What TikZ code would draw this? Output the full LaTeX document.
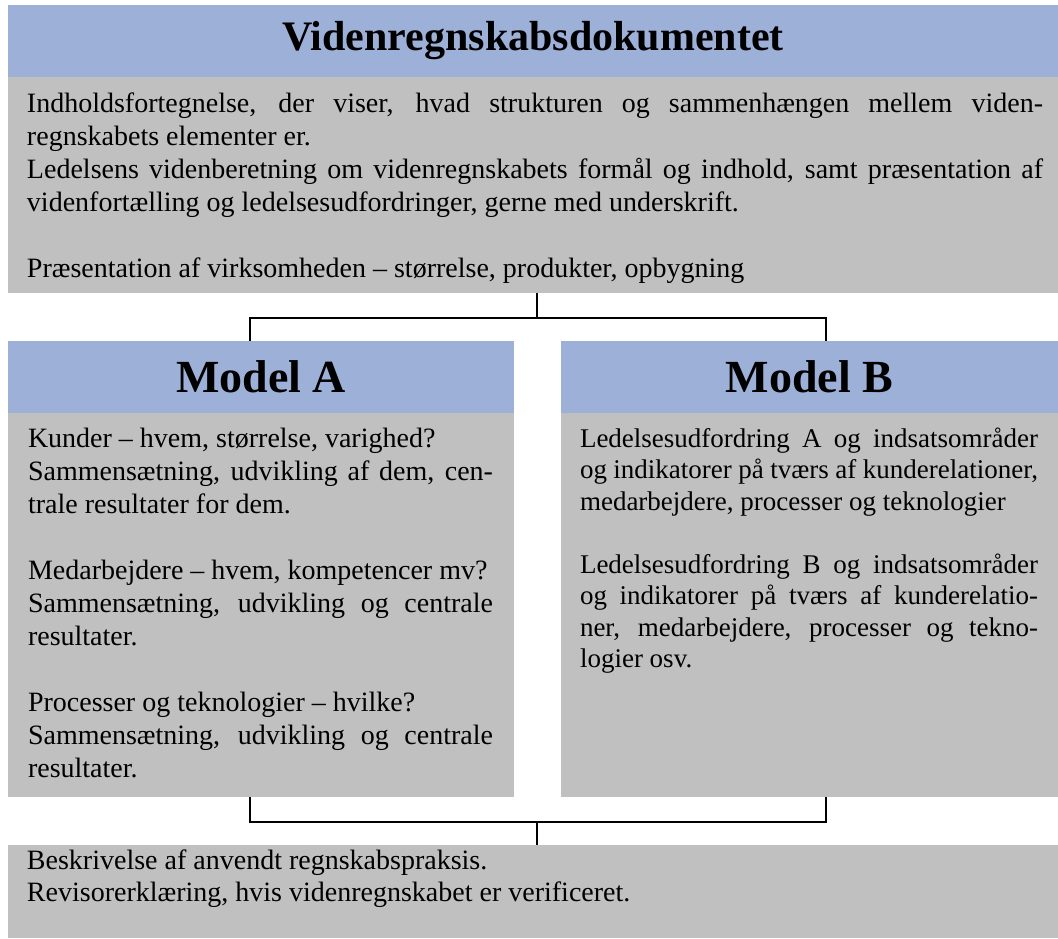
\documentclass[tikz,border=0pt]{standalone}
\usepackage{fontspec}
\setmainfont{Liberation Serif}
\usetikzlibrary{calc}
\definecolor{hdrblue}{RGB}{157,176,216}
\definecolor{bodygray}{RGB}{192,192,192}

\begin{document}
\begin{tikzpicture}[x=1pt,y=-1pt,
  panel/.style={draw=none, rectangle, inner sep=0pt, outer sep=0pt, anchor=north west},
  hdr/.style={panel, fill=hdrblue, font=\bfseries},
  body/.style={panel, fill=bodygray},
  txt/.style={anchor=north west, inner sep=0pt, outer sep=0pt, align=justify,
    execute at begin node={\parindent=0pt\tolerance=10000\hyphenpenalty=10000}},
  conn/.style={draw=black, line width=1.5pt}]
\useasboundingbox (0,0) rectangle (1058,938);

% top panel
\node[hdr, minimum width=1050pt, minimum height=72pt] (topHdr) at (8,5)
  {\fontsize{42}{48}\selectfont Videnregnskabsdokumentet};
\node[body, minimum width=1050pt, minimum height=216pt] (topBody) at (8,77) {};
\node[txt, text width=1016pt, font=\fontsize{28}{33}\selectfont] (topText) at (27,89)
  {\strut Indholdsfortegnelse, der viser, hvad strukturen og sammenhængen mellem viden-\linebreak
   regnskabets elementer er.\par
   Ledelsens videnberetning om videnregnskabets formål og indhold, samt præsentation af\linebreak
   videnfortælling og ledelsesudfordringer, gerne med underskrift.\par
   \mbox{}\par
   Præsentation af virksomheden – størrelse, produkter, opbygning\par};

% model A
\node[hdr, minimum width=506pt, minimum height=72pt] (hdrA) at (8,341)
  {\fontsize{46}{52}\selectfont Model A};
\node[body, minimum width=506pt, minimum height=384pt] (bodyA) at (8,413) {};
\node[txt, text width=465pt, font=\fontsize{28}{33}\selectfont] (textA) at (28,424)
  {\strut Kunder – hvem, størrelse, varighed?\newline
   Sammensætning, udvikling af dem, cen-\linebreak
   trale resultater for dem.\par
   \mbox{}\par
   Medarbejdere – hvem, kompetencer mv?\newline
   Sammensætning, udvikling og centrale\linebreak
   resultater.\par
   \mbox{}\par
   Processer og teknologier – hvilke?\newline
   Sammensætning, udvikling og centrale\linebreak
   resultater.\par};

% model B
\node[hdr, minimum width=497pt, minimum height=72pt] (hdrB) at (561,341)
  {\fontsize{46}{52}\selectfont Model B};
\node[body, minimum width=497pt, minimum height=384pt] (bodyB) at (561,413) {};
\node[txt, text width=458pt, font=\fontsize{27}{31.5}\selectfont] (textB) at (580,425)
  {\strut Ledelsesudfordring A og indsatsområder\linebreak
   og indikatorer på tværs af kunderelationer,\linebreak
   medarbejdere, processer og teknologier\par
   \mbox{}\par
   Ledelsesudfordring B og indsatsområder\linebreak
   og indikatorer på tværs af kunderelatio-\linebreak
   ner, medarbejdere, processer og tekno-\linebreak
   logier osv.\par};

% bottom panel
\node[body, minimum width=1050pt, minimum height=93pt] (botBody) at (8,845) {};
\node[txt, text width=1016pt, font=\fontsize{28}{32}\selectfont] (botText) at (27,847)
  {\strut Beskrivelse af anvendt regnskabspraksis.\par
   Revisorerklæring, hvis videnregnskabet er verificeret.\par};

% connectors
\coordinate (jTop) at (537,318);
\coordinate (jA) at (250,318);
\coordinate (jB) at (826,318);
\coordinate (kA) at (250,822);
\coordinate (kB) at (826,822);
\coordinate (kBot) at (537,822);
\draw[conn] (topBody.south -| jTop) -- (jTop);
\draw[conn] (hdrA.north -| jA) -- (jA) -- (jB) -- (hdrB.north -| jB);
\draw[conn] (bodyA.south -| kA) -- (kA) -- (kB) -- (bodyB.south -| kB);
\draw[conn] (kBot) -- (botBody.north -| kBot);
\end{tikzpicture}
\end{document}
